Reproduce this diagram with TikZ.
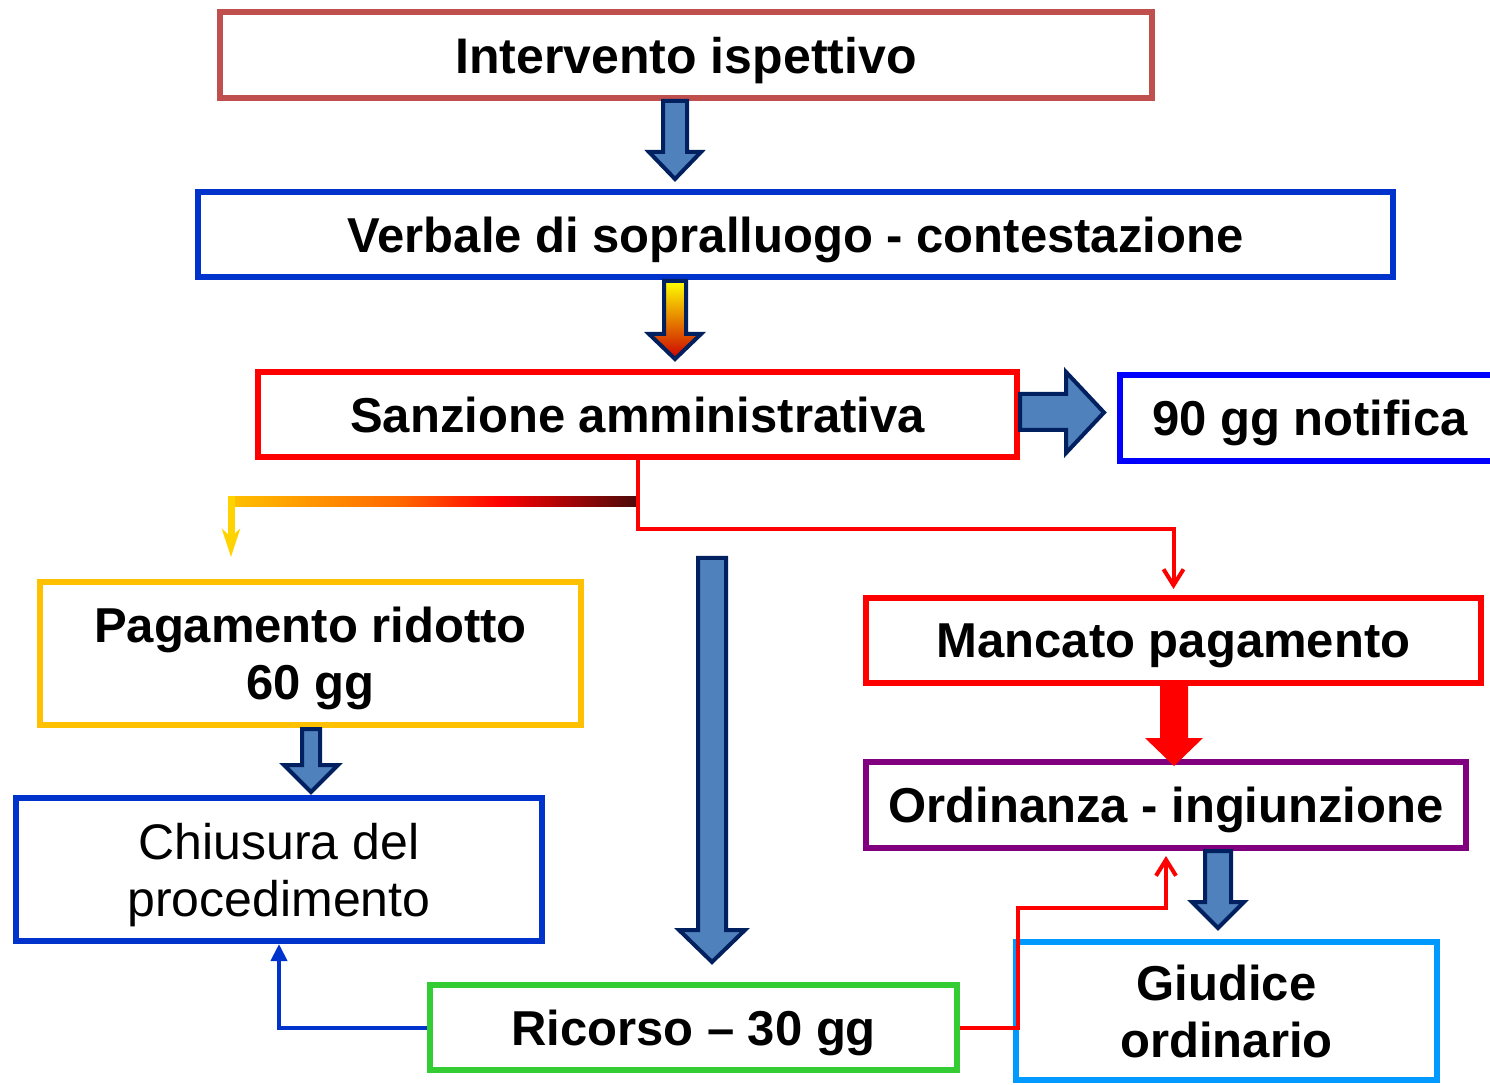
\documentclass[tikz,border=0pt]{standalone}
\usepackage{fontspec}
\setmainfont{Liberation Sans}
\usetikzlibrary{arrows.meta,calc}
\definecolor{inspred}{HTML}{C0504D}
\definecolor{verbblue}{HTML}{0033CC}
\definecolor{notblue}{HTML}{0000FF}
\definecolor{payyellow}{HTML}{FFC000}
\definecolor{ricgreen}{HTML}{33CC33}
\definecolor{ordpurple}{HTML}{800080}
\definecolor{giudblue}{HTML}{0099FF}
\definecolor{arrowfill}{HTML}{4F81BD}
\definecolor{arrownavy}{HTML}{002060}
\definecolor{blood}{HTML}{4A0A0A}
\pgfdeclarehorizontalshading{goldfade}{100bp}{color(0bp)=(payyellow); color(25bp)=(payyellow);
  color(46bp)=(orange!80!red); color(58bp)=(red); color(75bp)=(blood); color(100bp)=(blood)}
\tikzset{
  box/.style={draw, line width=3pt, inner sep=0pt, align=center, text depth=0pt,
              font=\fontsize{24.5}{28.5}\selectfont\bfseries},
  boxsize/.style 2 args={minimum width=#1*0.5pt, minimum height=#2*0.5pt},
  blockarrow/.style={fill=arrowfill, draw=arrownavy, line width=2pt, line join=miter},
  link/.style={line width=2pt},
}
% vertical block arrow: [style]{x}{top}{tip}{half shaft}{half head}{head length}
\newcommand{\vblock}[7][blockarrow]{%
  \draw[#1] (#2-#5,#3) -- (#2+#5,#3) -- (#2+#5,#4-#7) -- (#2+#6,#4-#7) -- (#2,#4)
    -- (#2-#6,#4-#7) -- (#2-#5,#4-#7) -- cycle;}

\begin{document}
\begin{tikzpicture}[x=0.5pt,y=-0.5pt]
  \fill[white] (0,0) rectangle (1490,1085);
  \useasboundingbox (0,0) rectangle (1490,1085);

  % boxes
  \node[box, draw=inspred, boxsize={932}{86}, font=\fontsize{25}{28.5}\selectfont\bfseries]
    (insp) at (686,55) {Intervento ispettivo};
  \node[box, draw=verbblue, boxsize={1195}{85}] (verb) at (795.5,234.5) {Verbale di sopralluogo - contestazione};
  \node[box, draw=red, boxsize={759}{85}] (sanz) at (637.5,414.5) {Sanzione amministrativa};
  \node[box, draw=notblue, boxsize={380}{86}] (noti) at (1310,418) {90 gg notifica};
  \node[box, draw=payyellow, boxsize={541}{143}] (pay) at (310.5,653.5) {Pagamento ridotto\\60 gg};
  \node[box, draw=verbblue, font=\fontsize{25}{28.5}\selectfont,
        boxsize={526}{143}] (chius) at (279,869.5) {Chiusura del\\procedimento};
  \node[box, draw=ricgreen, boxsize={527}{85}] (ric) at (693.5,1027.5) {Ricorso – 30 gg};
  \node[box, draw=red, boxsize={615}{85}] (manc) at (1173.5,640.5) {Mancato pagamento};
  \node[box, draw=ordpurple, boxsize={600}{86}] (ord) at (1166,805) {Ordinanza - ingiunzione};
  \node[box, draw=giudblue, boxsize={421}{138}] (giud) at (1226.5,1011) {Giudice\\ordinario};

  % block arrows
  \vblock{675}{101}{179}{12}{26}{27}
  \vblock[blockarrow, top color=yellow, middle color=orange, bottom color=red!80!black]{675}{281}{359}{11}{26}{25}
  \vblock{712}{558}{962}{14}{33}{32}
  \vblock{311}{729}{792}{9}{27}{27}
  \vblock[fill=red, draw=none]{1174}{684}{766}{14}{29}{28}
  \vblock{1218}{851}{928}{13}{26}{26}
  \draw[blockarrow] (1020,394) -- (1066,394) -- (1066,372) -- (1104,412.5)
    -- (1066,453) -- (1066,430) -- (1020,430) -- cycle;

  % connectors
  \coordinate (gsplit) at ($(sanz.south)+(0,43)$);
  \coordinate (gturn) at (231,500);
  \shade[shading=goldfade] ($(gturn)+(0,-3.5)$) rectangle ($(gsplit)+(0,3.5)$);
  \draw[payyellow!70!yellow, line width=3.5pt, -{Stealth[length=14pt,width=9pt,inset=4pt]}]
    ($(gturn)+(0,-3.5)$) -- ($(pay.north -| gturn)+(0,-22)$);
  \draw[link, red, -{Straight Barb[length=8pt,width=10pt]}]
    (sanz.south) -- ++(0,69) -| ($(manc.north)+(0,-6)$);
  \draw[link, verbblue, -{Triangle[length=8.5pt,width=8pt]}] (ric.west) -| (chius.south);
  \coordinate (rstep) at (1018,908);
  \draw[link, red, -{Straight Barb[length=8pt,width=10pt]}]
    (ric.east) -| (rstep) -| ($(ord.south)+(0,5)$);
\end{tikzpicture}
\end{document}
